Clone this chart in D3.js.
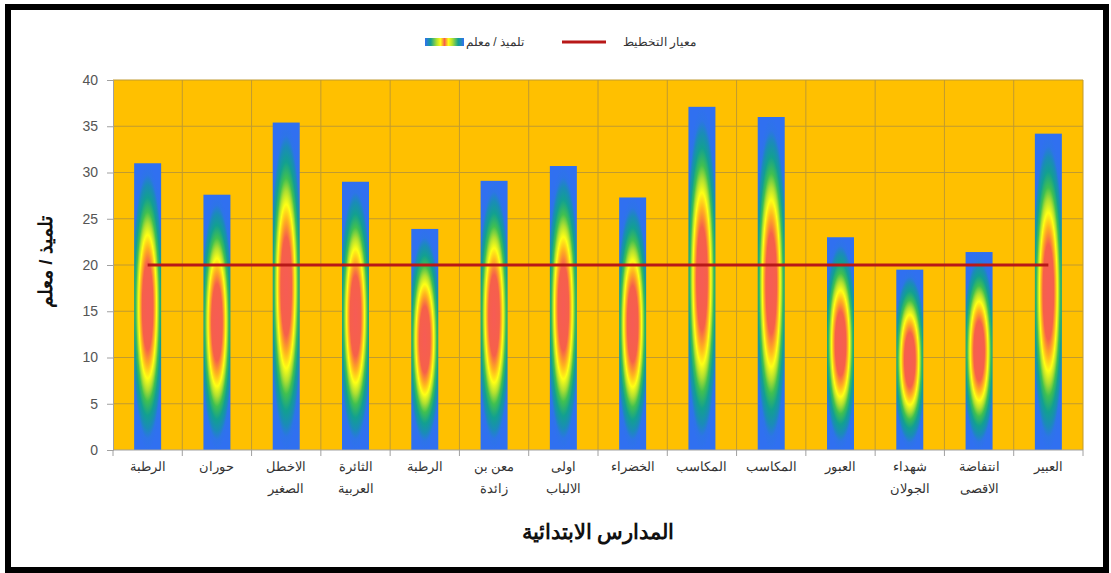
<!DOCTYPE html>
<html>
<head>
<meta charset="utf-8">
<script src="https://cdn.jsdelivr.net/npm/d3@7"></script>
<style>
  body { margin: 0; background: #fff; }
  text { font-family: "Liberation Sans", Arial, sans-serif; }
</style>
</head>
<body>
<div id="chart"></div>
<script>
// Data.
const schools = [
  ['الرطبة'], ['حوران'], ['الاخطل', 'الصغير'], ['الثائرة', 'العربية'],
  ['الرطبة'], ['معن بن', 'زائدة'], ['اولى', 'الالباب'], ['الخضراء'],
  ['المكاسب'], ['المكاسب'], ['العبور'], ['شهداء', 'الجولان'],
  ['انتفاضة', 'الاقصى'], ['العبير'],
];
const ratio = [31, 27.6, 35.4, 29, 23.9, 29.1, 30.7, 27.3, 37.1, 36, 23, 19.5, 21.4, 34.2];
const planning = [20, 20];
const yTicks = [0, 5, 10, 15, 20, 25, 30, 35, 40];

const W = 1111, H = 573;
const margin = {top: 80, right: 28, bottom: 123, left: 113};
const innerW = W - margin.left - margin.right;
const innerH = H - margin.top - margin.bottom;

const svg = d3.select('#chart').append('svg')
  .attr('width', W).attr('height', H);

// gradient used by the bars and the legend swatch
const defs = svg.append('defs');
const grad = defs.append('radialGradient')
  .attr('id', 'barGrad')
  .attr('cx', 0.5).attr('cy', 0.5).attr('r', 0.5)
  .attr('gradientTransform', 'translate(0.5,0.5) scale(1.32,1) translate(-0.5,-0.5)');
[
  [0, '#f65c55'], [0.3, '#f6604a'], [0.41, '#ffb41e'], [0.5, '#ffff14'],
  [0.58, '#b0e030'], [0.66, '#40c050'], [0.76, '#12a090'], [0.85, '#1a8cb8'], [0.92, '#2d74e8'], [1, '#3070f0'],
].forEach(([o, c]) => grad.append('stop').attr('offset', o).attr('stop-color', c));

const legGrad = defs.append('linearGradient').attr('id', 'legGrad');
[
  [0, '#3070f0'], [0.15, '#12a090'], [0.3, '#b0e030'], [0.4, '#ffff14'],
  [0.5, '#f6604a'], [0.6, '#ffff14'], [0.7, '#b0e030'], [0.85, '#12a090'], [1, '#3070f0'],
].forEach(([o, c]) => legGrad.append('stop').attr('offset', o).attr('stop-color', c));

// outer frame
svg.append('rect')
  .attr('x', 8).attr('y', 7).attr('width', 1098).attr('height', 563)
  .attr('fill', '#fff').attr('stroke', '#000').attr('stroke-width', 6);

const g = svg.append('g').attr('transform', `translate(${margin.left},${margin.top})`);

const x = d3.scaleBand().domain(d3.range(schools.length)).range([0, innerW]);
const y = d3.scaleLinear().domain([0, 40]).range([innerH, 0]);

// plot background
g.append('rect').attr('width', innerW).attr('height', innerH).attr('fill', '#ffc000');

// gridlines
g.append('g').selectAll('line.h').data(yTicks.slice(1)).join('line')
  .attr('x1', 0).attr('x2', innerW)
  .attr('y1', (d) => y(d)).attr('y2', (d) => y(d))
  .attr('stroke', '#c09a30').attr('stroke-width', 1);
g.append('g').selectAll('line.v').data(d3.range(1, schools.length + 1)).join('line')
  .attr('x1', (i) => i * x.step()).attr('x2', (i) => i * x.step())
  .attr('y1', 0).attr('y2', innerH)
  .attr('stroke', '#c09a30').attr('stroke-width', 1);

// bars
const barW = 27;
g.append('g').selectAll('rect').data(ratio).join('rect')
  .attr('x', (d, i) => x(i) + x.bandwidth() / 2 - barW / 2)
  .attr('y', (d) => y(d))
  .attr('width', barW)
  .attr('height', (d) => innerH - y(d))
  .attr('fill', 'url(#barGrad)');

// planning standard line
g.append('line')
  .attr('x1', x(0) + x.bandwidth() / 2)
  .attr('x2', x(schools.length - 1) + x.bandwidth() / 2)
  .attr('y1', y(planning[0])).attr('y2', y(planning[1]))
  .attr('stroke', '#b81818').attr('stroke-width', 3);

// y axis
const yAxis = g.append('g').call(d3.axisLeft(y).tickValues(yTicks).tickSize(6).tickPadding(9));
yAxis.select('.domain').attr('stroke', '#a0a0a0');
yAxis.selectAll('.tick line').attr('stroke', '#a0a0a0');
yAxis.selectAll('.tick text').attr('fill', '#555').attr('font-size', 14)
  .attr('font-family', '"Liberation Sans", Arial, sans-serif');

// x axis: baseline and boundary ticks
g.append('line').attr('x1', 0).attr('x2', innerW).attr('y1', innerH).attr('y2', innerH)
  .attr('stroke', '#a0a0a0');
g.append('g').selectAll('line').data(d3.range(0, schools.length + 1)).join('line')
  .attr('x1', (i) => i * x.step()).attr('x2', (i) => i * x.step())
  .attr('y1', innerH).attr('y2', innerH + 6)
  .attr('stroke', '#a0a0a0');

const labels = g.append('g').selectAll('text').data(schools).join('text')
  .attr('x', (d, i) => x(i) + x.bandwidth() / 2)
  .attr('y', innerH + 21)
  .attr('text-anchor', 'middle')
  .attr('direction', 'rtl')
  .attr('font-size', 13)
  .attr('fill', '#333');
labels.selectAll('tspan').data((d) => d).join('tspan')
  .attr('x', function () { return this.parentNode.getAttribute('x'); })
  .attr('dy', (d, i) => (i === 0 ? 0 : 22))
  .text((d) => d);

// axis titles
g.append('text')
  .attr('x', innerW / 2).attr('y', innerH + 89)
  .attr('text-anchor', 'middle').attr('direction', 'rtl')
  .attr('font-size', 21).attr('font-weight', 'bold').attr('fill', '#111')
  .text('المدارس الابتدائية');
g.append('text')
  .attr('transform', `translate(${45 - margin.left},${262 - margin.top}) rotate(-90)`)
  .attr('text-anchor', 'middle').attr('dominant-baseline', 'central').attr('direction', 'rtl')
  .attr('font-size', 19).attr('font-weight', 'bold').attr('fill', '#111')
  .text('تلميذ / معلم');

// legend
const leg = svg.append('g');
leg.append('line').attr('x1', 562).attr('x2', 606).attr('y1', 42).attr('y2', 42)
  .attr('stroke', '#b81818').attr('stroke-width', 3);
leg.append('text').attr('x', 696).attr('y', 46).attr('text-anchor', 'start')
  .attr('direction', 'rtl').attr('font-size', 12).attr('fill', '#333')
  .text('معيار التخطيط');
leg.append('rect').attr('x', 425).attr('y', 38).attr('width', 39).attr('height', 8)
  .attr('fill', 'url(#legGrad)');
leg.append('text').attr('x', 524).attr('y', 46).attr('text-anchor', 'start')
  .attr('direction', 'rtl').attr('font-size', 12).attr('fill', '#333')
  .text('تلميذ / معلم');
</script>
</body>
</html>
